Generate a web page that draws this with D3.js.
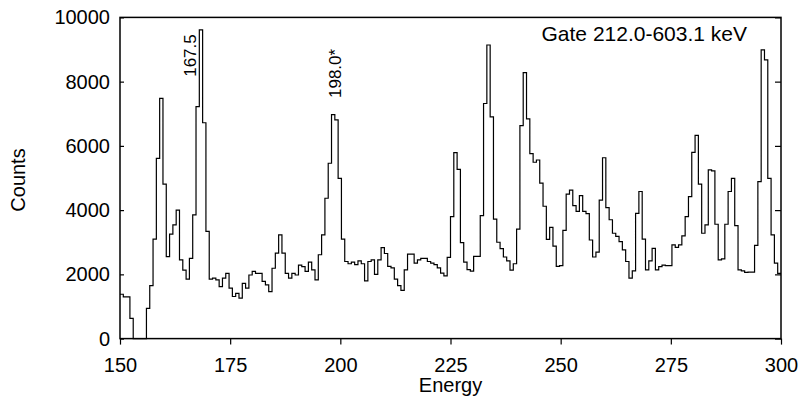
<!DOCTYPE html>
<html>
<head>
<meta charset="utf-8">
<script src="https://cdn.jsdelivr.net/npm/d3@7"></script>
<style>
  body { margin: 0; background: #fff; }
  svg text { font-family: "Liberation Sans", Arial, Helvetica, sans-serif; fill: #000; }
</style>
</head>
<body>
<svg id="chart" width="803" height="396"></svg>
<script>
// spectrum: 0.75 keV bins starting at 150 keV
const eStart = 150;
const binWidth = 0.75;
const counts = [
  1380, 1300, 1300, 630, 0, 0, 0, 0, 940, 1650,
  3100, 5610, 7480, 4810, 2550, 3250, 3540, 4000, 2450, 2130,
  1850, 2500, 3850, 7220, 9610, 6720, 3340, 1850, 1880, 1830,
  1620, 1880, 2030, 1570, 1310, 1410, 1260, 1720, 1570, 1980,
  2090, 2030, 2030, 1780, 1670, 1460, 2190, 2660, 3230, 2660,
  2030, 1880, 2030, 1980, 2290, 2240, 2090, 2380, 2140, 1830,
  2610, 3230, 4370, 5460, 6970, 6810, 4990, 3100, 2400, 2330,
  2380, 2300, 2420, 2330, 1800, 2400, 2450, 2000, 2450, 2830,
  2650, 2250, 2200, 1850, 1650, 1500, 2140, 2630, 2630, 2350,
  2450, 2500, 2500, 2400, 2350, 2300, 2200, 2040, 1950, 2530,
  3800, 5790, 5270, 2990, 2380, 2150, 2100, 2560, 2560, 3830,
  7320, 9140, 6900, 3720, 3000, 2800, 2540, 2420, 2130, 2330,
  3410, 6630, 8280, 6840, 5760, 5490, 5560, 4840, 4120, 3090,
  3460, 2880, 2250, 2270, 3370, 4500, 4620, 4140, 3960, 4450,
  3960, 3890, 3070, 2540, 2690, 4310, 5630, 4080, 3700, 3280,
  3180, 3020, 2760, 2400, 1880, 2110, 3900, 4580, 3100, 2140,
  2420, 2810, 2140, 2240, 2290, 2270, 2270, 2920, 2840, 2920,
  3200, 3800, 4420, 5800, 6330, 4810, 3280, 3540, 5250, 5220,
  3560, 2450, 2480, 3560, 4580, 4990, 3520, 2140, 2110, 2060,
  2070, 2070, 2900, 4890, 8990, 8680, 4990, 3230, 2350, 2030
];

const xTickValues = [150, 175, 200, 225, 250, 275, 300];
const yTickValues = [0, 2000, 4000, 6000, 8000, 10000];

// peak annotations (label, energy, counts at the foot of the label)
const peakNames = ['167.5', '198.0*'];
const peakEnergy = [165.9, 198.8];
const peakCounts = [8150, 7490];

const gateLabel = 'Gate 212.0-603.1 keV';

const svg = d3.select('#chart');
const margin = { left: 120, right: 22, top: 17.4, bottom: 57.4 };
const width = 803 - margin.left - margin.right;
const height = 396 - margin.top - margin.bottom;

const x = d3.scaleLinear().domain([150, 300]).range([margin.left, margin.left + width]);
const y = d3.scaleLinear().domain([0, 10000]).range([margin.top + height, margin.top]);

// histogram as a step line
const points = counts.map((c, i) => [eStart + i * binWidth, c]);
points.push([eStart + counts.length * binWidth, counts[counts.length - 1]]);

const line = d3.line()
  .x(d => x(d[0]))
  .y(d => y(d[1]))
  .curve(d3.curveStepAfter);

svg.append('path')
  .datum(points)
  .attr('d', line)
  .attr('fill', 'none')
  .attr('stroke', '#000')
  .attr('stroke-width', 1.2);

// axes
const bottom = svg.append('g')
  .attr('transform', `translate(0,${margin.top + height})`)
  .call(d3.axisBottom(x).tickValues(xTickValues).tickSize(6).tickPadding(13).tickSizeOuter(0));

const left = svg.append('g')
  .attr('transform', `translate(${margin.left},0)`)
  .call(d3.axisLeft(y).tickValues(yTickValues).tickFormat(d3.format('d'))
    .tickSize(-4).tickPadding(10).tickSizeOuter(0));

const right = svg.append('g')
  .attr('transform', `translate(${margin.left + width},0)`)
  .call(d3.axisRight(y).tickValues(yTickValues).tickSize(-6).tickFormat('').tickSizeOuter(0));

[bottom, left, right].forEach(g => {
  g.select('.domain').remove();
  g.selectAll('.tick line').attr('stroke', '#000').attr('stroke-width', 1.2);
  g.selectAll('.tick text')
    .style('font-size', '20px')
    .attr('fill', '#000');
});

// frame
svg.append('rect')
  .attr('x', margin.left)
  .attr('y', margin.top)
  .attr('width', width)
  .attr('height', height)
  .attr('fill', 'none')
  .attr('stroke', '#000')
  .attr('stroke-width', 1.5);

// axis titles
svg.append('text')
  .text('Energy')
  .attr('x', x(225))
  .attr('y', 392)
  .style('font-size', '20px')
  .style('text-anchor', 'middle');

svg.append('text')
  .text('Counts')
  .attr('transform', `translate(25,${y(5000) + 2}) rotate(-90)`)
  .style('font-size', '20px')
  .style('text-anchor', 'middle');

// gate label
svg.append('text')
  .text(gateLabel)
  .attr('x', 747)
  .attr('y', 41)
  .style('font-size', '21px')
  .style('text-anchor', 'end');

// peak labels
svg.selectAll('.peak')
  .data(peakNames)
  .enter().append('text')
  .attr('class', 'peak')
  .text(d => d)
  .attr('transform', (d, i) => `translate(${x(peakEnergy[i])},${y(peakCounts[i])}) rotate(-90)`)
  .attr('dy', '0.35em')
  .style('font-size', '17px')
  .style('text-anchor', 'start');
</script>
</body>
</html>
